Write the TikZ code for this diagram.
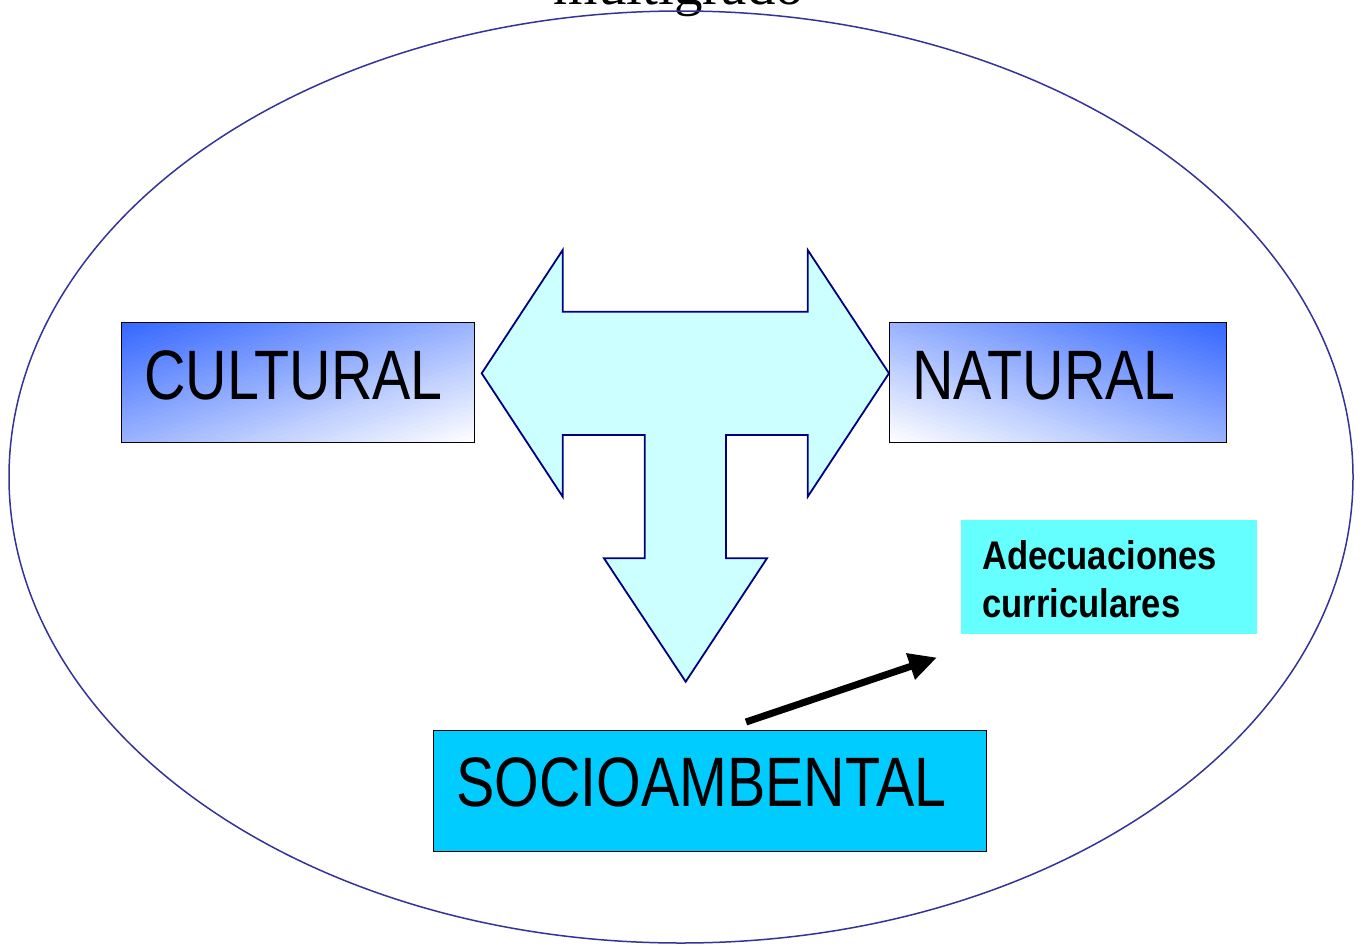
\documentclass[tikz,border=0pt]{standalone}
\usepackage{fontspec}
\setmainfont{Liberation Serif}
\newfontfamily\narrowsans[FakeStretch=0.82]{Liberation Sans}
\newfontfamily\boldnarrow[FakeStretch=0.865]{Liberation Sans}
\usetikzlibrary{arrows.meta,shapes.geometric}
\definecolor{ellcol}{HTML}{333399}
\definecolor{tfill}{HTML}{CCFFFF}
\definecolor{tline}{HTML}{000080}
\definecolor{gblue}{HTML}{3366FF}
\definecolor{socio}{HTML}{00CCFF}
\definecolor{adec}{HTML}{66FFFF}
\tikzset{
  boxbase/.style={rectangle, draw=black, line width=1.4pt, inner sep=0pt, anchor=north west},
  bigtext/.style={anchor=base west, inner sep=0pt, font=\narrowsans\fontsize{70}{84}\selectfont},
  smalltext/.style={anchor=base west, inner sep=0pt, align=left, font=\boldnarrow\bfseries\fontsize{40}{47.5}\selectfont},
}
\begin{document}
\begin{tikzpicture}[x=1pt,y=-1pt]
\useasboundingbox (0,0) rectangle (1363,945);
\clip (0,0) rectangle (1363,945);
\fill[white] (0,0) rectangle (1363,945);
% title (cut off at top)
\node[anchor=base, inner sep=0pt, font=\fontsize{57}{68}\selectfont] (title) at (679,4) {multigrado};
% big ellipse
\draw[ellcol, line width=1.5pt] (681,477) ellipse [x radius=672pt, y radius=466pt];
% T-shaped three-way arrow
\draw[tline, fill=tfill, line width=1.8pt, line join=miter]
  (481.7,373.3) -- (562.7,250) -- (562.7,311.7) -- (807.7,311.7) -- (807.7,250)
  -- (889,373.3) -- (807.7,496.7) -- (807.7,435) -- (726,435) -- (726,558.3)
  -- (767,558.3) -- (685.7,681.7) -- (604,558.3) -- (644.7,558.3) -- (644.7,435)
  -- (562.7,435) -- (562.7,496.7) -- cycle;
% gradient fill of CULTURAL box (blue top-left -> white bottom-right)
\begin{scope}[shift={(121,322)}, x=353pt, y=-120pt]
  \clip (0,0) rectangle (1,1);
  \foreach \k in {0,...,49}{
    \pgfmathsetmacro\a{\k/25}
    \pgfmathsetmacro\b{(\k+1)/25+0.01}
    \pgfmathsetmacro\p{100*(1-(\k+0.5)/50)}
    \fill[gblue!\p!white] (\a,0) -- (\b,0) -- (\b-1,1) -- (\a-1,1) -- cycle;
  }
\end{scope}
% gradient fill of NATURAL box (blue top-right -> white bottom-left)
\begin{scope}[shift={(889,322)}, x=337pt, y=-120pt]
  \clip (0,0) rectangle (1,1);
  \foreach \k in {0,...,49}{
    \pgfmathsetmacro\a{\k/25}
    \pgfmathsetmacro\b{(\k+1)/25+0.01}
    \pgfmathsetmacro\p{100*(1-(\k+0.5)/50)}
    \fill[gblue!\p!white] (1-\a,0) -- (1-\b,0) -- (2-\b,1) -- (2-\a,1) -- cycle;
  }
\end{scope}
% boxes
\node[boxbase, minimum width=353pt, minimum height=120pt] (cultural) at (121,322) {};
\node[bigtext] (culturaltext) at (144,399) {CULTURAL};
\node[boxbase, minimum width=337pt, minimum height=120pt] (natural) at (889,322) {};
\node[bigtext] (naturaltext) at (912,399) {NATURAL};
\node[boxbase, fill=socio, minimum width=553pt, minimum height=121pt] (socio) at (433,730) {};
\node[bigtext] (sociotext) at (456,806) {SOCIOAMBENTAL};
\node[rectangle, fill=adec, anchor=north west, inner sep=0pt, minimum width=296pt, minimum height=114pt] (adec) at (961,520) {};
\node[smalltext] (adectext) at (982,617) {Adecuaciones\\curriculares};
% connector
\coordinate (arrstart) at (746,722);
\coordinate (arrend) at (937,657.5);
\draw[black, line width=7pt, -{Triangle[length=28pt,width=26pt]}] (arrstart) -- (arrend);
\end{tikzpicture}
\end{document}
